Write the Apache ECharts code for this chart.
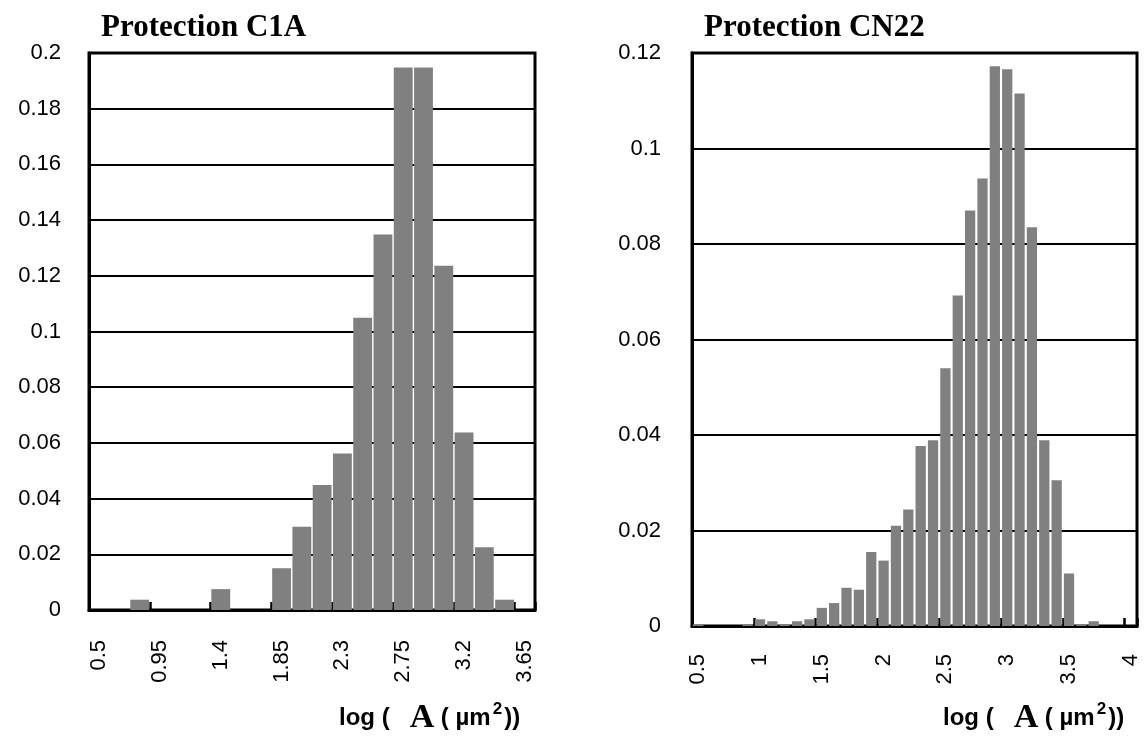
<!DOCTYPE html>
<html>
<head>
<meta charset="utf-8">
<script src="https://cdn.jsdelivr.net/npm/echarts@6/dist/echarts.min.js"></script>
<style>
html,body{margin:0;padding:0;background:#fff;}
#chart{width:1145px;height:744px;}
</style>
</head>
<body>
<div id="chart"></div>
<script>
// ---- data ----
var leftTitle = 'Protection C1A';
var rightTitle = 'Protection CN22';
var leftCategories = ['0.5','0.65','0.8','0.95','1.1','1.25','1.4','1.55','1.7','1.85','2','2.15','2.3','2.45','2.6','2.75','2.9','3.05','3.2','3.35','3.5','3.65'];
var leftValues = [0,0,0.0037,0,0,0,0.0075,0,0,0.015,0.0299,0.0449,0.0562,0.1049,0.1348,0.1948,0.1948,0.1236,0.0637,0.0225,0.0037,0];
var rightCategories = ['0.5','0.6','0.7','0.8','0.9','1','1.1','1.2','1.3','1.4','1.5','1.6','1.7','1.8','1.9','2','2.1','2.2','2.3','2.4','2.5','2.6','2.7','2.8','2.9','3','3.1','3.2','3.3','3.4','3.5','3.6','3.7','3.8','3.9','4'];
var rightValues = [0.0004,0,0,0,0.0004,0.0014,0.001,0.0004,0.001,0.0014,0.0038,0.0048,0.008,0.0076,0.0155,0.0137,0.021,0.0244,0.0377,0.0389,0.054,0.0692,0.087,0.0937,0.1172,0.1166,0.1115,0.0835,0.0389,0.0305,0.011,0.0004,0.001,0,0,0];
var leftYMax = 0.2, rightYMax = 0.12, yStep = 0.02;

var SANS = '"Liberation Sans", Arial, sans-serif';
var NARROW = '"Liberation Sans Narrow", "Arial Narrow", "Liberation Sans", sans-serif';
var SERIF = '"Liberation Serif", "Times New Roman", serif';

var chart = echarts.init(document.getElementById('chart'), null, {renderer:'canvas'});

function xAxis(idx, cats, every, margin) {
  return {
    type:'category', gridIndex:idx, data:cats, boundaryGap:true,
    axisLine:{show:true, lineStyle:{color:'#000', width:3}},
    axisTick:{show:true, inside:true, length:8, interval:every, lineStyle:{color:'#000', width:2.5}},
    axisLabel:{interval:every, rotate:90, margin:margin, color:'#000', fontFamily:SANS, fontSize:22},
    splitLine:{show:false}
  };
}
function yAxis(idx, max, margin) {
  return {
    type:'value', gridIndex:idx, min:0, max:max, interval:yStep,
    axisLine:{show:true, lineStyle:{color:'#000', width:3}},
    axisTick:{show:false},
    axisLabel:{margin:margin, color:'#000', fontFamily:SANS, fontSize:22},
    splitLine:{show:true, lineStyle:{color:'#000', width:2}}
  };
}
var nameRich = {
  a:{fontFamily:NARROW, fontWeight:'bold', fontSize:24, color:'#000'},
  b:{fontFamily:SERIF, fontWeight:'bold', fontSize:34, color:'#000'},
  s:{fontFamily:NARROW, fontWeight:'bold', fontSize:17, color:'#000', verticalAlign:'top', padding:[0,2,18,2]}
};
var nameText = '{a|log (   }{b|A}{a| ( µm}{s|2}{a|))}';

chart.setOption({
  animation:false,
  backgroundColor:'#fff',
  title:[
    {text:leftTitle, left:96, top:7, textStyle:{fontFamily:SERIF, fontWeight:'bold', fontSize:31, color:'#000'}},
    {text:rightTitle, left:699, top:7, textStyle:{fontFamily:SERIF, fontWeight:'bold', fontSize:31, color:'#000'}},
    {text:nameText, left:334, top:696, textStyle:{rich:nameRich}},
    {text:nameText, left:938, top:696, textStyle:{rich:nameRich}}
  ],
  grid:[
    {left:89, top:53, width:446, height:557, show:true, borderColor:'#000', borderWidth:3, containLabel:false},
    {left:692, top:53, width:445, height:573, show:true, borderColor:'#000', borderWidth:3, containLabel:false}
  ],
  xAxis:[xAxis(0, leftCategories, 2, 30), xAxis(1, rightCategories, 4, 28)],
  yAxis:[yAxis(0, leftYMax, 28), yAxis(1, rightYMax, 31)],
  series:[
    {type:'bar', xAxisIndex:0, yAxisIndex:0, data:leftValues, barCategoryGap:'7%', itemStyle:{color:'#808080'}, silent:true},
    {type:'bar', xAxisIndex:1, yAxisIndex:1, data:rightValues, barCategoryGap:'17%', itemStyle:{color:'#808080'}, silent:true}
  ]
});
</script>
</body>
</html>
